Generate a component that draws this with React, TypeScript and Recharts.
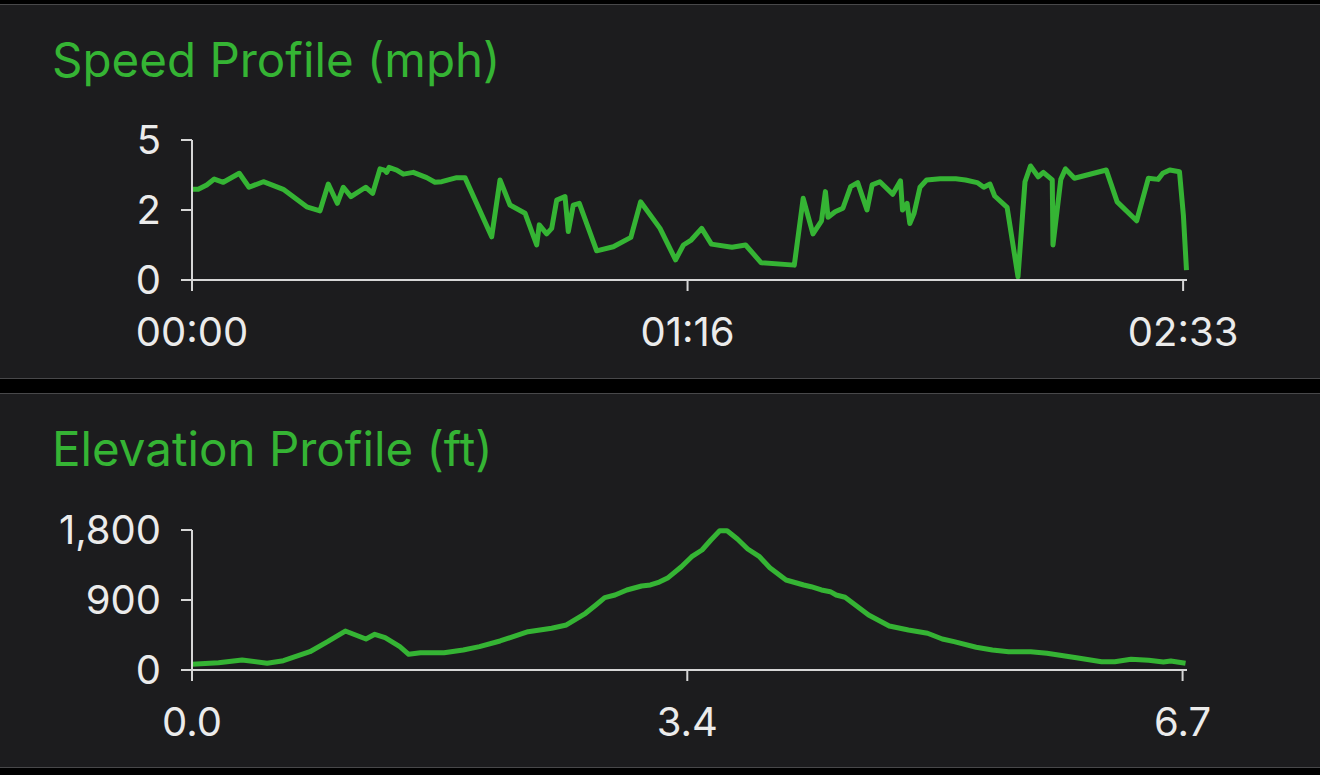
import { Line, LineChart, XAxis, YAxis } from "recharts";

// speed: minutes elapsed vs mph
const speedMinutes = [
  0, 0.97, 2.27, 3.44, 4.83, 7.3, 8.8, 11.01, 14.09, 17.71, 19.76, 21.04, 22.43, 23.36, 24.54, 26.81,
  27.89, 29.02, 29.69, 30.06, 30.41, 31.6, 32.62, 34.16, 36.23, 37.51, 38.55, 40.86, 42.14, 46.26,
  47.55, 49.09, 51.41, 53.21, 53.61, 54.75, 55.53, 56.3, 57.58, 58.09, 58.86, 59.79, 62.47, 65.04,
  67.75, 69.25, 72.25, 74.65, 75.86, 77.06, 78.68, 80.18, 83.36, 85.46, 87.87, 92.98, 94.35, 95.86,
  97.18, 97.78, 98.19, 99.28, 100.48, 101.68, 102.76, 104.2, 104.99, 106.19, 108.17, 109.37, 109.68,
  110.39, 110.81, 111.47, 112.38, 113.4, 115.5, 117.91, 119.4, 121.21, 122.23, 123.19, 123.91,
  125.83, 127.51, 128.59, 129.44, 130.63, 131.42, 132.8, 132.91, 134.12, 134.84, 136.22, 141.14,
  142.82, 145.83, 147.64, 149.14, 149.86, 150.94, 152.44, 153.04, 153.52,
];
const speedMph = [
  3.11, 3.11, 3.26, 3.46, 3.35, 3.66, 3.18, 3.37, 3.11, 2.51, 2.37, 3.29, 2.63, 3.18, 2.86, 3.18,
  2.97, 3.81, 3.77, 3.69, 3.86, 3.77, 3.63, 3.69, 3.51, 3.35, 3.37, 3.51, 3.51, 1.48,
  3.43, 2.57, 2.29, 1.2, 1.89, 1.58, 1.77, 2.74, 2.86, 1.66, 2.57, 2.63, 1.0, 1.14,
  1.46, 2.68, 1.77, 0.69, 1.2, 1.37, 1.77, 1.23, 1.12, 1.2, 0.59, 0.51, 2.8, 1.58,
  2.03, 3.03, 2.15, 2.34, 2.46, 3.2, 3.34, 2.4, 3.26, 3.37, 2.94, 3.4, 2.4,
  2.63, 1.94, 2.29, 3.18, 3.43, 3.47, 3.47, 3.43, 3.34, 3.18, 3.29, 2.88,
  2.49, 0.11, 3.37, 3.91, 3.54, 3.69, 3.43, 1.2, 3.45, 3.81, 3.49, 3.77,
  2.68, 2.03, 3.49, 3.45, 3.66, 3.77, 3.71, 2.23, 0.34,
];
const speedXTicks = [0, 76.5, 153];
const speedYTicks = [0, 2.4, 4.8];

// elevation: miles vs feet
const elevMiles = [
  0, 0.18, 0.34, 0.51, 0.62, 0.8, 0.92, 1.04, 1.18, 1.24, 1.31, 1.41, 1.47, 1.55, 1.71, 1.84, 1.95,
  2.09, 2.28, 2.44, 2.54, 2.67, 2.74, 2.8, 2.87, 2.95, 3.05, 3.11, 3.17, 3.23, 3.32, 3.39, 3.46,
  3.52, 3.58, 3.63, 3.7, 3.77, 3.85, 3.92, 4.03, 4.15, 4.2, 4.27, 4.33, 4.37, 4.43, 4.5, 4.59,
  4.73, 4.86, 4.99, 5.09, 5.17, 5.32, 5.43, 5.54, 5.69, 5.8, 6.0, 6.17, 6.26, 6.37, 6.49, 6.59,
  6.64, 6.74,
];
const elevFeet = [
  73, 94, 129, 86, 120, 235, 364, 501, 399, 459, 415, 300, 202, 222, 222, 257, 300,
  373, 492, 536, 579, 729, 836, 930, 964, 1029, 1080, 1093, 1131, 1187, 1328, 1457, 1543,
  1671, 1791, 1791, 1684, 1556, 1457, 1315, 1157, 1093, 1071, 1029, 1007, 964, 935, 836, 707,
  566, 514, 472, 399, 364, 292, 257, 235, 235, 215, 158, 107, 107, 138, 125, 103,
  116, 86,
];
const elevXTicks = [0, 3.36, 6.72];
const elevYTicks = [0, 900, 1800];

const speedData = speedMinutes.map((t, i) => ({ t, v: speedMph[i] }));
const elevData = elevMiles.map((d, i) => ({ d, v: elevFeet[i] }));

const GREEN = "#35b434";
const AXIS = "#d6d6d6";
const TICK_TEXT = "#ebebeb";
const FONT = "Inter, 'Noto Sans', sans-serif";

const tickStyle = { fill: TICK_TEXT, fontSize: 40, fontFamily: FONT };

function fmtClock(m: number) {
  const h = Math.floor(m / 60);
  const mm = Math.floor(m % 60);
  return `${String(h).padStart(2, "0")}:${String(mm).padStart(2, "0")}`;
}

function Panel({ top, title }: { top: number; title: string }) {
  return (
    <div
      style={{
        position: "absolute",
        left: 0,
        top,
        width: 1320,
        height: 373,
        background: "#1c1c1e",
        borderTop: "1px solid #48484a",
        borderBottom: "1px solid #48484a",
      }}
    >
      <div
        style={{
          position: "absolute",
          left: 52,
          top: 31,
          fontSize: 47.5,
          lineHeight: "47.5px",
          color: GREEN,
          fontFamily: FONT,
          whiteSpace: "nowrap",
        }}
      >
        {title}
      </div>
    </div>
  );
}

export default function App() {
  return (
    <div style={{ position: "absolute", left: 0, top: 0, width: 1320, height: 775, background: "#000", overflow: "hidden" }}>
      <Panel top={4} title="Speed Profile (mph)" />
      <Panel top={393} title="Elevation Profile (ft)" />

      <div style={{ position: "absolute", left: 0, top: 100 }}>
        <LineChart width={1320} height={270} data={speedData} margin={{ top: 40, right: 133, left: 0, bottom: 0 }}>
          <XAxis
            dataKey="t"
            type="number"
            domain={[0, 153.6]}
            ticks={speedXTicks}
            interval={0}
            tickFormatter={fmtClock}
            height={90}
            stroke={AXIS}
            strokeWidth={2}
            tickSize={11}
            tickMargin={27}
            tick={tickStyle}
          />
          <YAxis
            type="number"
            domain={[0, 4.8]}
            ticks={speedYTicks}
            interval={0}
            tickFormatter={(v: number) => v.toFixed(0)}
            width={192}
            stroke={AXIS}
            strokeWidth={2}
            tickSize={11}
            tickMargin={20}
            tick={tickStyle}
          />
          <Line
            type="linear"
            dataKey="v"
            stroke={GREEN}
            strokeWidth={5}
            dot={false}
            strokeLinejoin="round"
            isAnimationActive={false}
          />
        </LineChart>
      </div>

      <div style={{ position: "absolute", left: 0, top: 490 }}>
        <LineChart width={1320} height={270} data={elevData} margin={{ top: 40, right: 133, left: 0, bottom: 0 }}>
          <XAxis
            dataKey="d"
            type="number"
            domain={[0, 6.75]}
            ticks={elevXTicks}
            interval={0}
            tickFormatter={(v: number) => v.toFixed(1)}
            height={90}
            stroke={AXIS}
            strokeWidth={2}
            tickSize={11}
            tickMargin={27}
            tick={tickStyle}
          />
          <YAxis
            type="number"
            domain={[0, 1800]}
            ticks={elevYTicks}
            interval={0}
            tickFormatter={(v: number) => v.toLocaleString("en-US")}
            width={192}
            stroke={AXIS}
            strokeWidth={2}
            tickSize={11}
            tickMargin={20}
            tick={tickStyle}
          />
          <Line
            type="linear"
            dataKey="v"
            stroke={GREEN}
            strokeWidth={5}
            dot={false}
            strokeLinejoin="round"
            isAnimationActive={false}
          />
        </LineChart>
      </div>
    </div>
  );
}
